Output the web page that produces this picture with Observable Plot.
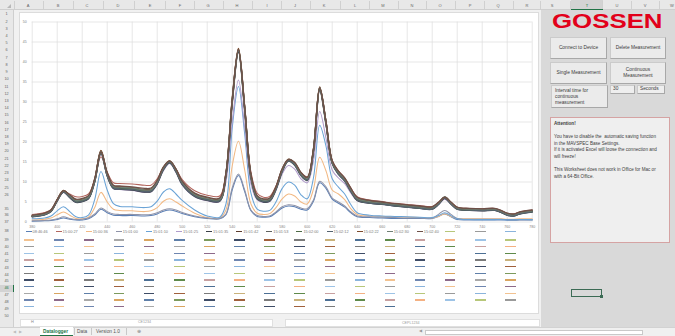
<!DOCTYPE html>
<html><head><meta charset="utf-8">
<script src="https://cdn.jsdelivr.net/npm/d3@7"></script>
<script src="https://cdn.jsdelivr.net/npm/@observablehq/plot@0.6"></script>
<style>
html,body{margin:0;padding:0;}
body{width:675px;height:336px;overflow:hidden;position:relative;background:#f1f1f1;font-family:"Liberation Sans",Arial,sans-serif;}
.a{position:absolute;box-sizing:border-box;}
.cl{position:absolute;top:2.5px;font-size:4px;color:#666;transform:translateX(-50%);}
.csep{position:absolute;top:1px;width:0.6px;height:8px;background:#d0d0d0;}
.rl{position:absolute;left:0;width:13px;text-align:center;font-size:3.8px;color:#666;transform:translateY(-50%);line-height:4px;}
.btn{position:absolute;box-sizing:border-box;background:#ebebeb;border:1px solid #cbcbcb;border-right-color:#a8a8a8;border-bottom-color:#a8a8a8;font-size:4.8px;color:#3a3a3a;display:flex;align-items:center;justify-content:center;text-align:center;line-height:6px;}
.lg{position:absolute;height:1.3px;}
.lt{position:absolute;font-size:3.9px;color:#7a7a7a;white-space:nowrap;line-height:4px;transform:translateY(-50%);}
</style></head><body>
<script>
// ---------- chart data ----------
const wavelengths = [380,390,395,400,405,410,415,420,425,430,435,440,445,450,460,470,475,480,485,490,495,500,510,520,530,535,540,545,550,555,560,565,570,575,580,585,590,595,600,605,610,615,620,625,630,635,640,650,660,670,680,690,700,705,710,715,720,730,740,750,755,760,765,770,780];
const xTicks = [380,400,420,440,460,480,500,520,540,560,580,600,620,640,660,680,700,720,740,760,780];
const yTicks = [0,5,10,15,20,25,30,35,40,45,50];
const seriesNames = ["08:46:46","15:00:27","15:00:36","15:01:00","15:01:10","15:01:25","15:01:35","15:01:42","15:01:53","15:02:00","15:02:12","15:02:22","15:02:30","15:02:40"];
const seriesColors = ["#5a7fb5","#b3665e","#f2b984","#8f93a8","#6aa3d6","#b09ccb","#3a3f47","#5c3b2d","#5f625f","#4d6a45","#55636f","#7d4a2c","#6f7f74","#6e5048"];
const m084646 = [0.2,0.3,0.4,0.6,1.0,0.7,0.5,0.5,0.8,1.7,3.2,2.3,1.7,1.6,1.6,1.5,1.6,2.0,2.7,3.0,2.7,2.1,1.3,0.9,0.8,1.8,8.0,11.6,7.6,2.8,1.4,1.2,1.3,2.3,3.5,4.0,3.8,3.2,3.0,5.2,9.8,8.4,5.7,4.7,3.7,2.3,1.3,1.1,1.0,0.9,0.9,0.9,0.9,1.4,2.0,1.3,0.6,0.5,0.5,0.5,0.5,0.45,0.45,0.5,0.5];
const m150027 = [1.9,2.4,3.1,5.6,7.6,7.0,6.3,6.4,7.0,10.6,16.3,12.5,9.8,9.6,9.5,9.2,9.2,10.8,13.6,14.8,13.2,10.6,7.8,6.7,6.5,12.3,29.8,42.5,28.3,12.5,7.2,6.2,6.4,9.0,13.2,15.3,14.6,12.4,11.3,18.0,33.0,24.8,15.4,12.8,11.0,8.5,6.3,5.5,5.1,4.7,4.4,4.1,3.9,4.9,6.0,4.9,3.7,3.4,3.3,3.4,2.9,2.2,2.0,2.5,3.0];
const m150036 = [0.5,0.7,1.0,1.8,2.5,1.7,0.9,0.8,1.2,3.6,7.4,5.0,3.2,2.9,2.8,2.6,2.8,3.6,5.2,5.8,5.0,4.0,2.2,1.1,1.0,3.0,14.0,20.2,13.0,4.5,2.2,1.9,2.1,3.6,5.8,7.0,6.5,5.0,4.5,8.2,16.2,12.8,8.0,7.0,5.6,3.3,1.9,1.5,1.4,1.3,1.2,1.1,1.0,1.4,2.0,1.4,0.9,0.8,0.8,0.8,0.8,0.7,0.7,0.8,0.8];
const m150100 = [0.3,0.4,0.5,0.8,1.3,0.9,0.6,0.7,1.0,2.0,3.5,2.6,2.0,1.9,1.9,1.8,1.9,2.3,3.0,3.3,3.0,2.4,1.5,1.0,0.9,2.0,8.5,12.0,8.0,3.0,1.6,1.4,1.5,2.5,3.8,4.3,4.1,3.5,3.3,5.5,10.2,8.8,6.0,5.0,4.0,2.5,1.5,1.3,1.2,1.1,1.0,1.0,1.0,1.9,2.9,1.9,0.9,0.7,0.7,0.7,0.7,0.6,0.6,0.6,0.6];
const m150110 = [0.8,1.0,1.5,2.8,3.8,2.6,1.3,1.1,1.7,5.6,12.6,8.0,4.6,3.9,3.8,3.6,3.8,5.2,7.5,8.3,7.0,5.4,3.0,1.5,1.2,4.5,23.5,33.9,22.0,7.2,3.2,2.7,2.9,5.0,8.4,10.0,9.2,6.8,5.8,11.0,24.2,19.0,10.8,8.7,7.0,4.3,2.3,1.7,1.5,1.4,1.3,1.2,1.1,1.6,2.3,1.6,0.8,0.6,0.6,0.6,0.6,0.55,0.55,0.6,0.6];
const m150125 = [1.3,1.8,2.6,5.2,7.4,6.1,4.9,5.1,5.8,9.9,17.0,11.4,8.3,8.1,7.9,7.4,7.5,9.4,12.8,14.6,12.4,9.2,6.3,5.3,5.1,10.0,25.0,35.5,23.5,9.5,5.5,4.9,5.1,7.8,12.0,14.1,13.2,10.8,9.8,15.2,27.6,21.0,13.0,11.0,9.6,7.2,5.3,4.7,4.4,4.0,3.7,3.4,3.2,4.3,5.7,4.4,3.2,2.9,2.8,2.9,2.4,1.7,1.5,2.0,2.5];
const m150135 = [1.3,1.8,2.6,5.2,7.5,6.1,4.9,5.1,5.8,10.0,17.2,11.5,8.4,8.2,8.0,7.5,7.6,9.6,13.1,14.8,12.6,9.4,6.4,5.4,5.2,11.5,29.6,42.5,27.8,11.0,5.8,5.0,5.2,8.1,12.6,15.2,14.2,11.6,10.4,17.5,33.0,24.5,14.6,11.9,10.2,7.6,5.4,4.7,4.4,4.0,3.7,3.4,3.2,4.4,5.9,4.5,3.2,2.9,2.8,2.9,2.4,1.7,1.5,2.0,2.5];
const m150142 = [1.5,2.0,2.8,5.5,7.8,6.5,5.3,5.5,6.2,10.5,17.8,12.0,8.8,8.6,8.4,7.9,8.0,10.0,13.5,15.2,13.0,9.8,6.8,5.8,5.6,12.0,30.5,43.2,28.5,11.5,6.2,5.4,5.6,8.5,13.0,15.6,14.6,12.0,10.8,18.0,33.6,25.0,15.0,12.3,10.6,8.0,5.8,5.0,4.7,4.3,4.0,3.7,3.5,4.6,6.0,4.7,3.4,3.1,3.0,3.1,2.6,1.9,1.7,2.2,2.7];
const m150153 = [1.45,1.95,2.75,5.45,7.7,6.4,5.2,5.4,6.1,10.4,17.6,11.9,8.7,8.5,8.3,7.8,7.9,9.9,13.4,15.1,12.9,9.7,6.7,5.7,5.5,11.9,30.2,43.0,28.4,11.4,6.1,5.3,5.5,8.4,12.9,15.5,14.5,11.9,10.7,17.9,33.5,24.9,14.9,12.2,10.5,7.9,5.7,4.9,4.6,4.2,3.9,3.6,3.45,4.6,6.15,4.7,3.35,3.05,2.95,3.05,2.55,1.85,1.65,2.15,2.65];
const m150200 = [1.4,1.9,2.7,5.4,7.6,6.3,5.1,5.3,6.0,10.2,17.5,11.8,8.6,8.4,8.2,7.7,7.8,9.8,13.3,15.0,12.8,9.6,6.6,5.6,5.4,11.8,30.0,42.8,28.2,11.3,6.0,5.2,5.4,8.3,12.8,15.4,14.4,11.8,10.6,17.8,33.3,24.8,14.8,12.1,10.4,7.8,5.6,4.8,4.5,4.1,3.8,3.5,3.3,4.5,6.1,4.6,3.3,3.0,2.9,3.0,2.5,1.8,1.6,2.1,2.6];
const m150212 = [1.35,1.85,2.65,5.3,7.55,6.2,5.0,5.2,5.9,10.1,17.4,11.6,8.5,8.3,8.1,7.6,7.7,9.7,13.2,14.9,12.7,9.5,6.5,5.5,5.3,11.6,29.8,42.7,28.0,11.1,5.9,5.1,5.3,8.2,12.7,15.3,14.3,11.7,10.5,17.6,33.1,24.6,14.7,12.0,10.3,7.7,5.5,4.75,4.45,4.05,3.75,3.45,3.25,4.45,6.0,4.55,3.25,2.95,2.85,2.95,2.45,1.75,1.55,2.05,2.55];
const m150222 = [1.6,2.1,2.9,5.6,7.9,6.7,5.5,5.7,6.4,10.7,17.9,12.2,9.0,8.8,8.6,8.1,8.2,10.2,13.7,15.3,13.2,10.0,7.0,6.0,5.8,12.2,30.8,43.4,28.8,11.7,6.4,5.6,5.8,8.7,13.2,15.7,14.8,12.2,11.0,18.2,33.8,25.2,15.2,12.5,10.8,8.2,6.0,5.2,4.9,4.5,4.2,3.9,3.7,4.8,6.2,4.9,3.6,3.3,3.2,3.3,2.8,2.1,1.9,2.4,2.9];
const m150230 = [1.55,2.05,2.85,5.5,7.75,6.55,5.35,5.55,6.25,10.5,17.6,12.0,8.9,8.7,8.5,8.0,8.1,10.1,13.6,15.2,13.1,9.9,6.9,5.9,5.7,12.1,30.4,43.0,28.6,11.6,6.3,5.5,5.7,8.6,13.1,15.6,14.7,12.1,10.9,18.1,33.6,25.1,15.1,12.4,10.7,8.1,5.9,5.1,4.8,4.4,4.1,3.8,3.6,4.7,6.3,4.8,3.5,3.2,3.1,3.2,2.7,2.0,1.8,2.3,2.8];
const m150240 = [1.7,2.2,3.0,5.6,7.8,6.8,5.7,5.9,6.6,10.8,17.5,12.3,9.2,9.0,8.8,8.4,8.5,10.4,13.8,15.2,13.3,10.2,7.2,6.2,6.0,12.3,30.3,43.1,28.7,11.9,6.6,5.8,6.0,8.8,13.3,15.6,14.9,12.4,11.2,18.3,33.5,25.2,15.3,12.7,11.0,8.4,6.2,5.4,5.0,4.6,4.3,4.0,3.8,4.9,6.2,5.0,3.7,3.4,3.3,3.4,2.9,2.2,2.0,2.5,3.0];
const seriesValues = [m084646,m150027,m150036,m150100,m150110,m150125,m150135,m150142,m150153,m150200,m150212,m150222,m150230,m150240];
const darkSeries = ["15:01:35","15:01:42","15:01:53","15:02:00","15:02:12","15:02:22","15:02:30","15:02:40"];
// colours of the empty (unlabelled) legend entries
const emptyEntryColors = ["#b7c77a","#9a9a9a","#8ab4dc","#f2c290","#6f86b0","#8d6a8a","#a8a8a8","#d9a560","#5f7fa8","#7c9a5c","#3e4c66","#a0603c","#7a7a7a","#c9b27a","#4c6f94","#5e8a4a","#c7a0a0","#f4b183","#9dc3e6"];
const emptyEntryCount = 186;

// ---------- page (spreadsheet frame) ----------
function box(cls, css, html){const d=document.createElement("div");d.className=cls;d.style.cssText=css;if(html!=null)d.innerHTML=html;document.body.appendChild(d);return d;}
box("a","left:0;top:0;width:675px;height:10px;background:#e8e8e8;border-bottom:1px solid #cfcfcf;");
box("a","left:0;top:10px;width:14px;height:317px;background:#e8e8e8;border-right:1px solid #cfcfcf;");
box("a","left:571px;top:0;width:32px;height:10px;background:#d3d3d3;border-bottom:1px solid #217346;");
box("a","left:0;top:285px;width:14px;height:7px;background:#d3d3d3;border-right:1px solid #217346;");
box("a","left:7px;top:4px;width:0;height:0;border-left:4px solid transparent;border-bottom:4px solid #b8b8b8;");
const colLetters = ["A","B","C","D","E","F","G","H","I","J","K","L","M","N","O","P","Q","R","S","T","U","V","W"];
const colCenters = [28,58,87,118,150,180,208,237,267,295,324,355,383,412,440,470,498,527,552,587,617,645,672];
colLetters.forEach((c,i)=>{
  box("cl","left:"+colCenters[i]+"px;"+(c==="T"?"color:#217346;":""),c);
  const sep = i===0?14:(colCenters[i-1]+colCenters[i])/2;
  box("csep","left:"+sep+"px;");
});
const rowLabels=[]; for(let r=1;r<=26;r++)rowLabels.push(r); rowLabels.push(35,36,37); for(let r=38;r<=50;r++)rowLabels.push(r);
rowLabels.forEach(r=>{
  let y; if(r<=26) y=14.3+(r-1)*7.22; else if(r===35) y=208.5; else if(r===36) y=215.2; else if(r===37) y=221.7; else if(r===38) y=231.2; else y=240+(r-39)*6.9;
  box("rl","top:"+y+"px;"+(r===46?"color:#217346;":""),String(r));
});

// right panel
box("a","left:541px;top:10px;width:134px;height:317px;background:#d9d9d9;");
box("a","left:552px;top:10.2px;font:bold 21px 'Liberation Sans',Arial,sans-serif;color:#e2001a;line-height:21px;transform:scaleX(1.23);transform-origin:0 0;white-space:nowrap;","GOSSEN");
box("btn","left:550px;top:37px;width:57px;height:22px;","Connect to Device");
box("btn","left:610px;top:37px;width:56px;height:22px;","Delete Measurement");
box("btn","left:550px;top:62px;width:57px;height:22px;","Single Measurement");
box("btn","left:610px;top:62px;width:56px;height:22px;","Continuous<br>Measurement");
box("btn","left:551px;top:85px;width:57px;height:23px;justify-content:flex-start;align-items:flex-start;text-align:left;padding:2px 0 0 3px;","Interval time for<br>continuous<br>measurement");
box("btn","left:610px;top:85px;width:25px;height:8.5px;justify-content:flex-start;padding-left:2px;background:#eeeeee;","30");
box("btn","left:637px;top:85px;width:28px;height:8.5px;justify-content:flex-start;padding-left:2px;background:#eeeeee;","Seconds");
box("a","left:550px;top:117px;width:120px;height:126px;background:#efefef;border:1px solid #d5a3a3;padding:3px 3px;font-size:4.6px;line-height:6.6px;color:#404040;",
 "<b>Attention!</b><br><br>You have to disable the &nbsp;automatic saving function<br>in the MAVSPEC Base Settings.<br>If it is activated Excel will loose the connection and<br>will freeze!<br><br>This Worksheet does not work in Office for Mac or<br>with a 64-Bit Office.");
box("a","left:571px;top:288.5px;width:31px;height:8px;border:1px solid #3c6b55;");
box("a","left:600px;top:295px;width:3px;height:3px;background:#3c6b55;");

// bottom
box("a","left:20px;top:319px;width:253px;height:8px;background:#fff;border:1px solid #e0e0e0;");
box("a","left:285px;top:319px;width:255px;height:8px;background:#fff;border:1px solid #e0e0e0;");
box("a","left:31px;top:320px;font-size:3.8px;color:#888;","H");
box("a","left:138px;top:320px;font-size:3.6px;color:#9a9a9a;","CE1234");
box("a","left:402px;top:321px;font-size:3.6px;color:#9a9a9a;","CEPL1234");
box("a","left:0;top:327px;width:675px;height:9px;background:#f0f0f0;border-top:1px solid #d2d2d2;");
box("a","left:13px;top:328.5px;font-size:4px;color:#bdbdbd;","&#9664;&nbsp;&nbsp;&nbsp;&#9654;");
box("a","left:40px;top:327px;width:33px;height:9px;background:#fff;border-bottom:1.2px solid #217346;");
box("a","left:43px;top:328.5px;font:bold 4.8px 'Liberation Sans',Arial;color:#217346;","Datalogger");
box("a","left:77px;top:328.5px;font-size:4.8px;color:#555;","Data");
box("a","left:96px;top:328.5px;font-size:4.8px;color:#555;","Version 1.0");
box("a","left:74px;top:328px;width:0.7px;height:7px;background:#c8c8c8;");
box("a","left:91px;top:328px;width:0.7px;height:7px;background:#c8c8c8;");
box("a","left:126px;top:328px;width:0.7px;height:7px;background:#c8c8c8;");
box("a","left:137px;top:328px;font-size:5px;color:#888;","&#8853;");
box("a","left:419px;top:329px;font-size:3.6px;color:#999;","&#9664;");
box("a","left:425px;top:329.5px;width:218px;height:5.5px;background:#fff;border:1px solid #c9c9c9;");

// chart object
const chartBox = box("a","left:20px;top:13px;width:518px;height:300px;background:#fff;box-shadow:0 0 0 1px #dcdcdc;");

// ---------- the chart ----------
const rows = [];
seriesNames.forEach((name,i)=>seriesValues[i].forEach((v,j)=>rows.push({nm:wavelengths[j],value:v,series:name})));
const lightRows = rows.filter(d=>!darkSeries.includes(d.series));
const darkRows = rows.filter(d=>darkSeries.includes(d.series));
const plot = Plot.plot({
  width:518, height:218,
  marginLeft:11.7, marginRight:6.3, marginTop:8.5, marginBottom:9.5,
  style:{background:"transparent",fontFamily:"'Liberation Sans',Arial,sans-serif",fontSize:"3.5px",color:"#808080",overflow:"visible"},
  x:{domain:[380,780]},
  y:{domain:[0,50]},
  color:{domain:seriesNames,range:seriesColors},
  marks:[
    Plot.gridX(xTicks,{stroke:"#dcdcdc",strokeOpacity:1,strokeWidth:0.7}),
    Plot.gridY(yTicks,{stroke:"#dcdcdc",strokeOpacity:1,strokeWidth:0.7}),
    Plot.axisX(xTicks,{tickSize:0,tickPadding:3,label:null,fill:"#808080"}),
    Plot.axisY(yTicks,{tickSize:0,tickPadding:5.5,label:null,fill:"#808080"}),
    Plot.line(lightRows,{x:"nm",y:"value",z:"series",stroke:"series",strokeWidth:1.05,curve:"catmull-rom"}),
    Plot.line(darkRows,{x:"nm",y:"value",z:"series",stroke:"series",strokeWidth:1.35,curve:"catmull-rom"})
  ]
});
plot.style.position="absolute"; plot.style.left="0px"; plot.style.top="0px";
chartBox.appendChild(plot);

// ---------- legend (below the plot, inside the chart object) ----------
function lgLine(x,y,w,color){const d=document.createElement("div");d.className="lg";d.style.cssText="left:"+x+"px;top:"+(y-0.65)+"px;width:"+w+"px;background:"+color+";";chartBox.appendChild(d);}
function lgText(x,y,t){const d=document.createElement("div");d.className="lt";d.style.cssText="left:"+x+"px;top:"+y+"px;";d.textContent=t;chartBox.appendChild(d);}
const colStep=30.1, firstCol=3.5, rowY0=218.7, rowStep=6.67, perRow=17;
let k=0;
seriesNames.forEach((name,i)=>{const x=firstCol+2+colStep*i;lgLine(x,rowY0,6,seriesColors[i]);lgText(x+7,rowY0,name);k++;});
for(let e=0;e<emptyEntryCount;e++,k++){
  const r=Math.floor(k/perRow), c=k%perRow;
  lgLine(firstCol+colStep*c,rowY0+r*rowStep+(r>0?1.6:0),10.5,emptyEntryColors[e%emptyEntryColors.length]);
}
</script>
</body></html>
